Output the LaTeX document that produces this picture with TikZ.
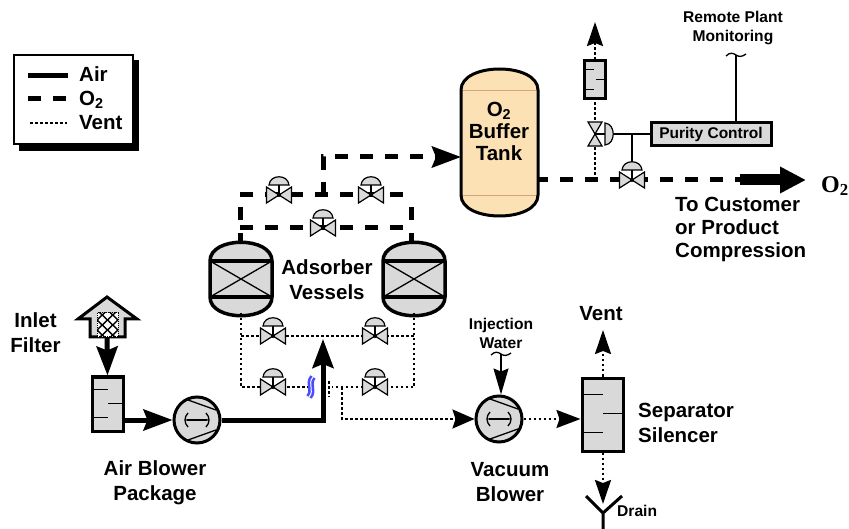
\documentclass[tikz,border=0pt]{standalone}
\usepackage{fontspec}
\setmainfont{Liberation Sans}
\newfontfamily\serifO{Liberation Serif}
\usetikzlibrary{positioning,arrows.meta,calc}
\definecolor{gy}{gray}{0.85}
\definecolor{peach}{RGB}{252,225,180}

\begin{document}
\begin{tikzpicture}[x=1pt, y=-1pt,
  lbl/.style={align=center, font=\fontsize{20.5}{25}\selectfont\bfseries, inner sep=0pt},
  small/.style={align=center, font=\fontsize{15.6}{19}\selectfont\bfseries, inner sep=0pt},
  air/.style={line width=5pt},
  oxy/.style={line width=5pt, dash pattern=on 13pt off 12pt},
  vnt/.style={line width=2.2pt, dash pattern=on 2.5pt off 2.5pt},
  thn/.style={line width=1.3pt},
  bigarr/.style={-{Stealth[length=29pt, width=21pt, inset=4pt]}},
  smallarr/.style={-{Stealth[length=24pt, width=16pt, inset=3pt]}},
  sil/.style={rectangle, draw, fill=gy, line width=3pt, inner sep=0pt},
  blow/.style={circle, draw, fill=gy, line width=3pt, minimum size=46pt, inner sep=0pt},
  valve/.pic={
    \draw[fill=gy, line width=1.2pt] (-12.5,-8) -- (12.5,8) -- (12.5,-8) -- (-12.5,8) -- cycle;
    \fill (0,0) circle[radius=2];
    \draw[line width=1.2pt] (0,0) -- (0,-10);
    \draw[fill=gy, line width=1.2pt] (-10,-10) .. controls (-9,-21) and (9,-21) .. (10,-10) -- cycle;
  },
  vessel/.pic={
    \draw[fill=gy, line width=3.5pt] (-31,-18) .. controls (-31,-43) and (31,-43) .. (31,-18) -- (31,18)
      .. controls (31,43) and (-31,43) .. (-31,18) -- cycle;
    \draw[line width=3.5pt] (-31,-18) -- (31,-18) (-31,18) -- (31,18);
    \draw[thn] (-31,-18) -- (31,18) (-31,18) -- (31,-18);
  },
  fan/.pic={
    \draw[thn] (-9,-20) -- (19,-10) (-9,20) -- (19,10);
    \draw[line width=2pt, line cap=round] (-10,0) -- (10,0);
    \draw[thn] (-9,-7) .. controls (-13,-3) and (-13,3) .. (-9,7);
    \draw[thn] (9,-7) .. controls (13,-3) and (13,3) .. (9,7);
  },
  wig/.pic={
    \draw[thn] (-10,1) .. controls (-6,-3) and (-3,-2) .. (0,0) .. controls (3,2) and (6,2) .. (10,-1);
  }]
\useasboundingbox (0,0) rectangle (849,529);

% legend
\fill (19,60) rectangle (139,151);
\node[draw, fill=white, line width=2.5pt, minimum width=119pt, minimum height=89pt, inner sep=0pt] (legend) at (73.5,99.5) {};
\coordinate (la1) at (28,76); \coordinate (la2) at (68,76);
\coordinate (lb1) at (28,99); \coordinate (lb2) at (68,99);
\coordinate (lc1) at (30,123); \coordinate (lc2) at (67,123);
\draw[air] (la1) -- (la2);
\draw[oxy] (lb1) -- (lb2);
\draw[vnt, line width=1.4pt] (lc1) -- (lc2);
\node[lbl, anchor=west] (tair) at (79,74) {Air};
\node[lbl, anchor=west] (toxy) at (79,100) {O\textsubscript{2}};
\node[lbl, anchor=west] (tvnt) at (79,123) {Vent};

% oxygen side
\coordinate (vesL) at (241,279); \coordinate (vesR) at (414,279);
\coordinate (upL) at (240,195); \coordinate (upR) at (411,195);
\coordinate (loL) at (240,228); \coordinate (loR) at (411,228);
\coordinate (stubL) at (240,233); \coordinate (stubR) at (411,233);
\coordinate (upM) at (323,195); \coordinate (upT) at (323,157);
\coordinate (tankin) at (461,157);
\coordinate (tankout) at (535,180); \coordinate (oxend) at (740,180);
\coordinate (oxtip) at (806,180); \coordinate (ventT) at (595,180);
\coordinate (ventA) at (595,22);
\draw[oxy] (upL) -- (upR);
\draw[oxy] (loL) -- (loR);
\draw[oxy, dash phase=13pt] (upL) -- (loL);
\draw[oxy, dash phase=13pt] (upR) -- (loR);
\draw[air] (stubL) -- (stubL |- vesL);
\draw[air] (stubR) -- (stubR |- vesR);
\draw[oxy, bigarr] (upM) -- (upT) -- (tankin);
\draw[oxy] (tankout) -- (oxend);
\draw[-{Triangle[length=26pt, width=25pt]}, line width=11pt] (oxend) -- (oxtip);
\draw[vnt, smallarr] (ventT) -- (ventA);

% tank
\path[fill=peach] (461,90) .. controls (461,62) and (538,62) .. (538,90) -- (538,195)
  .. controls (538,223) and (461,223) .. (461,195) -- cycle;
\draw[line width=.6pt, brown!70] (461,90) -- (538,90) (461,195) -- (538,195);
\draw[line width=3pt] (461,90) .. controls (461,62) and (538,62) .. (538,90) -- (538,195)
  .. controls (538,223) and (461,223) .. (461,195) -- cycle;
\node[lbl, font=\fontsize{20.5}{22}\selectfont\bfseries] (tank) at (499,131) {O\textsubscript{2}\\Buffer\\Tank};

% vent on the tank line
\node[sil, minimum width=21pt, minimum height=38pt] (sil3) at (595,80) {};
\coordinate (vvent) at (595,134);
\draw[fill=gy, line width=1.2pt] (588,122) -- (602,146) -- (588,146) -- (602,122) -- cycle;
\draw[fill=gy, line width=1.2pt] (605,123) .. controls (616,124) and (616,144) .. (605,145) -- cycle;
\draw[line width=1.2pt] (vvent) -- (605,134);

% purity control
\node[draw, fill=gy, line width=3pt, minimum width=120pt, minimum height=23pt, inner sep=0pt,
  font=\fontsize{15.5}{17}\selectfont\bfseries] (purity) at (711,134) {Purity Control};
\coordinate (act) at (613,134); \coordinate (tee) at (632,134); \coordinate (vpur) at (632,180);
\coordinate (remote) at (736,55);
\draw[thn] (act) -- (purity.west);
\draw[thn] (tee) -- (vpur);
\draw[thn] (purity.north -| remote) -- (remote);
\pic at (remote) {wig};
\pic at (vpur) {valve};
\node[small] (trem) at (733,28.5) {Remote Plant\\Monitoring};

\node[font=\serifO\fontsize{24}{26}\selectfont\bfseries, anchor=west, inner sep=0pt] (tO) at (821,186) {O\textsubscript{2}};
\node[lbl, font=\fontsize{20.5}{23}\selectfont\bfseries, anchor=west, align=left] (tcust) at (675,229) {To Customer\\or Product\\Compression};

% valves on the oxygen headers
\coordinate (v1) at (279,195); \coordinate (v2) at (371,195); \coordinate (v3) at (323,228);
\foreach \v in {v1,v2,v3} \pic at (\v) {valve};

% vessels
\pic at (vesL) {vessel};
\pic at (vesR) {vessel};
\node[lbl] (tads) at (327,279.5) {Adsorber\\Vessels};

% vent piping
\coordinate (bL) at (241,313); \coordinate (bR) at (414,313);
\coordinate (m1) at (241,336); \coordinate (m2) at (414,336);
\coordinate (n1) at (241,387); \coordinate (n2) at (414,387);
\coordinate (brk1) at (311,387); \coordinate (brk2) at (332,387);
\coordinate (drop) at (342,387); \coordinate (drop2) at (342,419);
\coordinate (s1) at (329,381); \coordinate (s2) at (329,397);
\draw[vnt] (bL) -- (n1) -- (brk1);
\draw[vnt] (m1) -- (m2);
\draw[vnt] (bR) -- (n2) -- (brk2);
\draw[vnt] (s1) -- (s2);
\node[blow] (vac) at (499,419) {};
\draw[vnt, -{Stealth[length=22pt, width=19pt, inset=3pt]}] (drop) -- (drop2) -- (vac.west);
\coordinate (v4) at (273,336); \coordinate (v5) at (375,336);
\coordinate (v6) at (273,387); \coordinate (v7) at (375,387);
\foreach \v in {v4,v5,v6,v7} \pic at (\v) {valve};
\draw[draw=blue!70, line width=2.6pt, double=white, double distance=1pt] (313,377) .. controls (307,384) and (315,390) .. (309,397);

% air side
\node[sil, minimum width=31pt, minimum height=54pt] (sil1) at (107.5,404) {};
\node[blow] (airb) at (197,420) {};
\coordinate (filt) at (107,337); \coordinate (corn) at (323,420); \coordinate (airtip) at (323,339);
\draw[fill=gy, line width=3pt] (78,319) -- (107,297) -- (137,319) -- (125,319) -- (125,337) -- (90,337) -- (90,319) -- cycle;
\draw[air, bigarr] (filt) -- (sil1.north);
\begin{scope}
  \clip (97,313) rectangle (118,337);
  \fill[white] (97,313) rectangle (118,337);
  \foreach \k in {-35,-25,...,35} {
    \draw[line width=1.4pt] (97,325+\k-10) -- (118,325+\k+10);
    \draw[line width=1.4pt] (97,325+\k+10) -- (118,325+\k-10);
  }
\end{scope}
\draw[line width=1pt, densely dotted] (97,313) rectangle (118,337);
\draw[air, bigarr] (sil1.east |- airb) -- (airb.west);
\draw[air, bigarr] (airb.east) -- (corn) -- (airtip);
\pic at (airb) {fan};
\node[lbl] (tfil) at (35.5,332.5) {Inlet\\Filter};
\node[lbl] (tpkg) at (155,482.5) {Air Blower\\Package};

% vacuum blower and separator
\node[sil, minimum width=41pt, minimum height=73pt] (sil2) at (602.5,414.5) {};
\coordinate (inj) at (501,354); \coordinate (vtop) at (603,330); \coordinate (drn) at (603,504);
\coordinate (dr0) at (603,513); \coordinate (drL) at (586,496); \coordinate (drR) at (622,496); \coordinate (drB) at (603,529);
\draw[-{Stealth[length=24pt, width=18pt, inset=3pt]}, vnt] (vac.east) -- (sil2.west |- vac);
\draw[vnt, smallarr] (sil2.north -| vtop) -- (vtop);
\draw[vnt, smallarr] (sil2.south -| drn) -- (drn);
\draw[thn, -{Stealth[length=26pt, width=15pt, inset=3pt]}] (inj) -- (vac.north -| inj);
\pic at (inj) {wig};
\pic at (vac) {fan};
\draw[line width=3pt] (drL) -- (dr0) -- (drR) (dr0) -- (drB);
\foreach \n/\w in {sil1/17,sil2/22,sil3/11} {
  \draw[thn] ($(\n.north west)!.24!(\n.south west)$) -- ++(\w,0);
  \draw[thn] ($(\n.north east)!.49!(\n.south east)$) -- ++(-\w,0);
  \draw[thn] ($(\n.north west)!.74!(\n.south west)$) -- ++(\w,0);
}
\node[small] (tinj) at (501,333.5) {Injection\\Water};
\node[lbl] (tvac) at (510,482.5) {Vacuum\\Blower};
\node[lbl] (tv2) at (601,314) {Vent};
\node[lbl, anchor=west, align=left] (tsep) at (638,423) {Separator\\Silencer};
\node[small, anchor=west] (tdr) at (617,511) {Drain};
\end{tikzpicture}
\end{document}
